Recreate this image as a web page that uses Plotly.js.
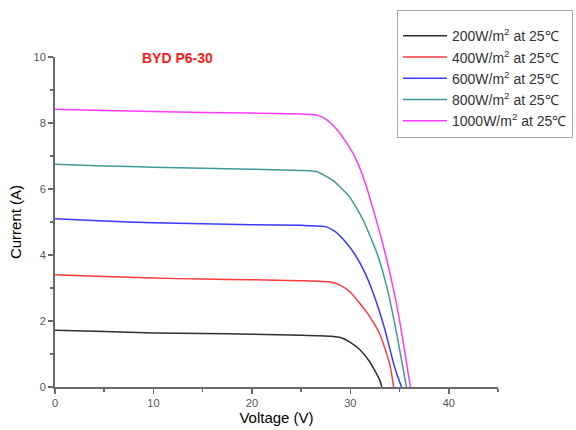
<!DOCTYPE html>
<html>
<head>
<meta charset="utf-8">
<script src="https://cdn.plot.ly/plotly-3.0.1.min.js"></script>
<style>html,body{margin:0;padding:0;background:#fff;}#chart{width:576px;height:430px;}</style>
</head>
<body>
<div id="chart"></div>
<script>
var seriesNames = ["200W/m<sup>2</sup> at 25℃", "400W/m<sup>2</sup> at 25℃", "600W/m<sup>2</sup> at 25℃", "800W/m<sup>2</sup> at 25℃", "1000W/m<sup>2</sup> at 25℃"];
var seriesColors = ["#303030", "#ff3a3a", "#3a3aff", "#3f9a96", "#ff3aff"];

var v200 = [0, 5, 10, 15, 20, 25, 28, 29, 30, 31, 32, 33, 33.2];
var i200 = [1.72, 1.68, 1.64, 1.62, 1.60, 1.57, 1.54, 1.50, 1.35, 1.12, 0.75, 0.2, 0];

var v400 = [0, 5, 10, 15, 20, 25, 28, 29, 30, 31, 32, 33, 34, 34.4];
var i400 = [3.40, 3.35, 3.30, 3.27, 3.25, 3.22, 3.18, 3.08, 2.87, 2.52, 2.12, 1.6, 0.7, 0];

var v600 = [0, 5, 10, 15, 20, 25, 27.5, 28.5, 29.5, 30.5, 31.5, 32.5, 33.5, 34.5, 35.2];
var i600 = [5.10, 5.03, 4.98, 4.95, 4.92, 4.90, 4.86, 4.70, 4.40, 4.00, 3.45, 2.70, 1.75, 0.6, 0];

var v800 = [0, 5, 10, 15, 20, 25, 26.6, 28.2, 29.9, 31.3, 32.7, 33.7, 34.7, 35.7];
var i800 = [6.75, 6.70, 6.66, 6.63, 6.60, 6.56, 6.52, 6.27, 5.77, 5.06, 4.06, 3.04, 1.63, 0];

var v1000 = [0, 5, 10, 15, 20, 25, 26.5, 27.5, 28.5, 29.5, 30.5, 31.5, 32.5, 33.5, 34.5, 35.3, 36.1];
var i1000 = [8.42, 8.38, 8.35, 8.32, 8.30, 8.27, 8.25, 8.12, 7.85, 7.45, 6.95, 6.2, 5.2, 4.1, 2.8, 1.5, 0];

var xs = [v200, v400, v600, v800, v1000];
var ys = [i200, i400, i600, i800, i1000];

var xTicks = [0, 10, 20, 30, 40];
var yTicks = [0, 2, 4, 6, 8, 10];
var chartTitle = "BYD P6-30";

var traces = xs.map(function (x, k) {
  return {
    x: x, y: ys[k], name: seriesNames[k], type: "scatter", mode: "lines",
    line: {color: seriesColors[k], width: 1.5, shape: "spline", smoothing: 0.5}
  };
});

var axisBase = {
  showgrid: false, zeroline: false, showline: true, linecolor: "#6a6a6a", linewidth: 2,
  ticks: "outside", ticklen: 5, tickwidth: 1.5, tickcolor: "#6a6a6a",
  tickfont: {family: "Liberation Sans, Arial, sans-serif", size: 11, color: "#555"},
  minor: {ticks: "outside", ticklen: 3, tickwidth: 1.5, tickcolor: "#6a6a6a", dtick: 5}
};

var layout = {
  width: 576, height: 430,
  margin: {l: 55, r: 78, t: 57, b: 43, autoexpand: false},
  paper_bgcolor: "#fff", plot_bgcolor: "#fff",
  showlegend: true,
  legend: {
    x: 0.772, y: 1.142, xanchor: "left", yanchor: "top",
    bordercolor: "#aaa", borderwidth: 1, bgcolor: "#fff",
    font: {family: "Liberation Sans, Arial, sans-serif", size: 14, color: "#333"},
    title: {text: " ", font: {size: 7}},
    itemwidth: 44,
    tracegroupgap: 0
  },
  xaxis: Object.assign({}, axisBase, {
    range: [0, 45], tickvals: xTicks,
    title: {text: "Voltage (V)", font: {family: "Liberation Sans, Arial, sans-serif", size: 15, color: "#000"}, standoff: 2}
  }),
  yaxis: Object.assign({}, axisBase, {
    range: [0, 10], tickvals: yTicks,
    minor: {ticks: "outside", ticklen: 3, tickwidth: 1.5, tickcolor: "#6a6a6a", dtick: 1},
    title: {text: "Current (A)", font: {family: "Liberation Sans, Arial, sans-serif", size: 15, color: "#000"}, standoff: 8}
  }),
  annotations: [{
    x: 12.4, y: 9.97, xref: "x", yref: "y", text: "<b>" + chartTitle + "</b>", showarrow: false,
    font: {family: "Liberation Sans, Arial, sans-serif", size: 14, color: "#ff1a1a"}
  }]
};

Plotly.newPlot("chart", traces, layout, {displayModeBar: false, staticPlot: true});
</script>
</body>
</html>
